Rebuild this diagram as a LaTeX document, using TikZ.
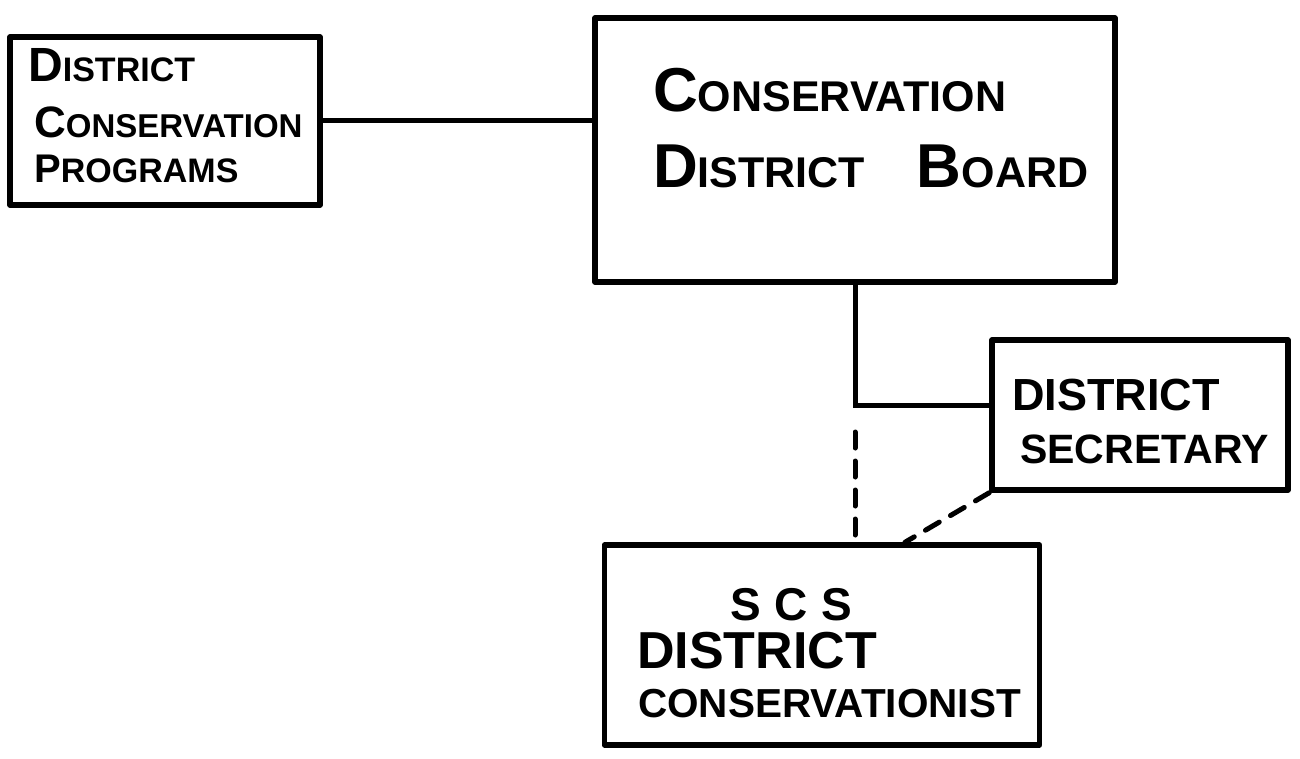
\documentclass[tikz,border=0pt]{standalone}
\usepackage{fontspec}
\setmainfont{Liberation Sans}
\newcommand{\fs}[1]{\fontsize{#1}{#1}\selectfont}
\begin{document}
\begin{tikzpicture}[x=1pt,y=-1pt,
  box/.style={draw, line width=5.5pt, inner sep=0pt, line join=round},
  conn/.style={line width=5pt, line cap=round},
  dconn/.style={conn, dash pattern=on 16pt off 13pt},
  lab/.style={anchor=base west, inner sep=0pt, font=\bfseries}]
\useasboundingbox[fill=white] (0,0) rectangle (1300,759);
% boxes
\node[box, minimum width=310pt, minimum height=168pt] (prog) at (165,121) {};
\node[box, minimum width=520pt, minimum height=264pt] (board) at (855,150) {};
\node[box, minimum width=296pt, minimum height=150pt] (sec) at (1140,415) {};
\node[box, minimum width=435pt, minimum height=200pt] (scs) at (822,645) {};
% texts
\node[lab] (p1) at (28,82) {\fs{34}{\fs{48}D}ISTRICT};
\node[lab] (p2) at (34,138) {\fs{33}{\fs{44}C}ONSERVATION};
\node[lab] (p3) at (34,183) {\fs{34}{\fs{40}P}ROGRAMS};
\node[lab] (b1) at (653,112) {\fs{43}{\fs{62}C}ONSERVATION};
\node[lab] (b2) at (653,188) {\fs{43}{\fs{62}D}ISTRICT\hspace{1.2em}{\fs{62}B}OARD};
\node[lab] (s1) at (1012,410) {\fs{45}DISTRICT};
\node[lab] (s2) at (1020,463) {\fs{41}SECRETARY};
\node[lab] (c1) at (730,620) {\fs{46}S\hspace{0.3em}C\hspace{0.3em}S};
\node[lab] (c2) at (637,668) {\fs{52}DISTRICT};
\node[lab] (c3) at (638,717) {\fs{40.5}CONSERVATIONIST};
% connectors
\coordinate (j) at (855,405);
\coordinate (jd) at (855,432);
\coordinate (sx) at (905,0);
\draw[conn] (prog.east) -- (board.west |- prog.east);
\draw[conn] (board.south -| j) -- (j) -- (sec.west |- j);
\draw[dconn] (jd) -- (scs.north -| jd);
\draw[dconn] (sec.south west) -- (scs.north -| sx);
\end{tikzpicture}
\end{document}
